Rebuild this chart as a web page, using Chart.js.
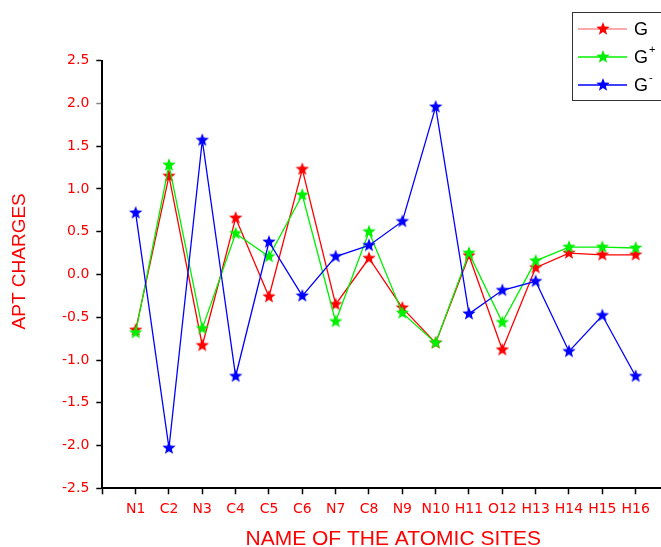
<!DOCTYPE html>
<html>
<head>
<meta charset="utf-8">
<script src="https://cdn.jsdelivr.net/npm/chart.js@4.4.1/dist/chart.umd.min.js"></script>
<style>
html, body { margin: 0; padding: 0; background: #fff; }
canvas { display: block; }
</style>
</head>
<body>
<canvas id="aptChart" width="661" height="547"></canvas>
<script>
// atomic sites along the x axis
const siteNames = ['N1', 'C2', 'N3', 'C4', 'C5', 'C6', 'N7', 'C8', 'N9', 'N10', 'H11', 'O12', 'H13', 'H14', 'H15', 'H16'];

// APT charges
const chargeG      = [-0.65, 1.15, -0.83, 0.66, -0.26, 1.23, -0.35, 0.19, -0.39, -0.80, 0.22, -0.88, 0.08, 0.25, 0.23, 0.23];
const chargeGplus  = [-0.68, 1.28, -0.63, 0.48, 0.21, 0.93, -0.55, 0.50, -0.45, -0.80, 0.25, -0.56, 0.16, 0.32, 0.32, 0.31];
const chargeGminus = [0.72, -2.03, 1.57, -1.19, 0.38, -0.25, 0.21, 0.34, 0.62, 1.96, -0.46, -0.185, -0.08, -0.90, -0.48, -1.19];

const yMin = -2.5, yMax = 2.5, yStep = 0.5;

const FONT = "'Liberation Sans', Arial, sans-serif";
const TICK_FONT = "'DejaVu Sans', sans-serif";

// filled five point star used as marker
function makeStar(color, r) {
    const c = document.createElement('canvas');
    const size = Math.ceil(r * 2 + 2);
    c.width = size;
    c.height = size;
    const g = c.getContext('2d');
    const cx = size / 2, cy = size / 2;
    g.beginPath();
    for (let i = 0; i < 10; i++) {
        const rad = i % 2 === 0 ? r : r * 0.42;
        const a = -Math.PI / 2 + i * Math.PI / 5;
        g.lineTo(cx + rad * Math.cos(a), cy + rad * Math.sin(a));
    }
    g.closePath();
    g.fillStyle = color;
    g.fill();
    return c;
}

const series = [
    { label: 'G', sup: '', color: '#ff0000', legendLine: 'rgba(255,0,0,0.45)', data: chargeG, order: 3 },
    { label: 'G', sup: '+', color: '#00f000', legendLine: '#00f000', data: chargeGplus, order: 2 },
    { label: 'G', sup: '-', color: '#0000ff', legendLine: '#0000ff', data: chargeGminus, order: 1 }
];

// boxed legend at the top right, like the original figure
const boxLegend = {
    id: 'boxLegend',
    afterDraw(chart) {
        const ctx = chart.ctx;
        ctx.save();
        ctx.strokeStyle = '#333';
        ctx.lineWidth = 1;
        ctx.fillStyle = '#fff';
        ctx.fillRect(572.5, 12.5, 110, 88);
        ctx.strokeRect(572.5, 12.5, 110, 88);
        series.forEach((s, i) => {
            const y = 29 + i * 28;
            ctx.strokeStyle = s.legendLine;
            ctx.lineWidth = 1.3;
            ctx.beginPath();
            ctx.moveTo(578, y);
            ctx.lineTo(627, y);
            ctx.stroke();
            const star = makeStar(s.color, 7);
            ctx.drawImage(star, 603 - star.width / 2, y - star.height / 2);
            ctx.fillStyle = '#000';
            ctx.textBaseline = 'middle';
            ctx.textAlign = 'left';
            ctx.font = '18px ' + FONT;
            ctx.fillText(s.label, 634, y + 1);
            if (s.sup) {
                const w = ctx.measureText(s.label).width;
                ctx.font = '11px ' + FONT;
                ctx.fillText(s.sup, 634 + w + 1, y - 7);
            }
        });
        ctx.restore();
    }
};

new Chart(document.getElementById('aptChart'), {
    type: 'line',
    data: {
        datasets: series.map(s => ({
            label: s.label + s.sup,
            data: s.data.map((v, i) => ({ x: i + 1, y: v })),
            borderColor: s.color,
            backgroundColor: s.color,
            borderWidth: 1.3,
            pointStyle: makeStar(s.color, 7),
            pointRadius: 6,
            tension: 0,
            fill: false,
            order: s.order
        }))
    },
    options: {
        responsive: false,
        devicePixelRatio: 1,
        animation: false,
        layout: { autoPadding: false, padding: { top: 60.7, left: 0, right: 0, bottom: 0 } },
        plugins: {
            legend: { display: false },
            tooltip: { enabled: false }
        },
        scales: {
            x: {
                type: 'linear',
                min: 0,
                max: 16.76,
                afterBuildTicks: s => {
                    s.ticks = [0].concat(siteNames.map((n, i) => i + 1)).map(v => ({ value: v }));
                },
                afterFit: s => { s.height = 58.7; },
                ticks: {
                    autoSkip: false,
                    maxRotation: 0,
                    padding: 7,
                    color: '#ff0000',
                    font: { family: TICK_FONT, size: 14 },
                    callback: v => v > 0 ? siteNames[v - 1] : ''
                },
                grid: { drawOnChartArea: false, drawTicks: true, tickLength: 6, color: '#000', tickWidth: 1.5 },
                border: { display: true, color: '#000', width: 2 },
                title: {
                    display: true,
                    text: '    NAME OF THE ATOMIC SITES',
                    color: '#ff0000',
                    font: { family: FONT, size: 21, lineHeight: 0.78 },
                    padding: { top: 0, bottom: 0 }
                }
            },
            y: {
                min: yMin,
                max: yMax,
                afterFit: s => { s.width = 102.3; },
                ticks: {
                    stepSize: yStep,
                    padding: 7,
                    color: '#ff0000',
                    font: { family: TICK_FONT, size: 14 },
                    callback: v => v.toFixed(1)
                },
                grid: {
                    drawOnChartArea: false,
                    drawTicks: true,
                    tickLength: 6,
                    tickWidth: 1.5,
                    color: c => (c.tick && c.tick.value === 2) ? '#888' : '#000'
                },
                border: { display: true, color: '#000', width: 2 },
                title: {
                    display: true,
                    text: '     APT CHARGES',
                    color: '#ff0000',
                    font: { family: FONT, size: 19 },
                    padding: { top: 8, bottom: 0 }
                }
            }
        }
    },
    plugins: [boxLegend]
});
</script>
</body>
</html>
